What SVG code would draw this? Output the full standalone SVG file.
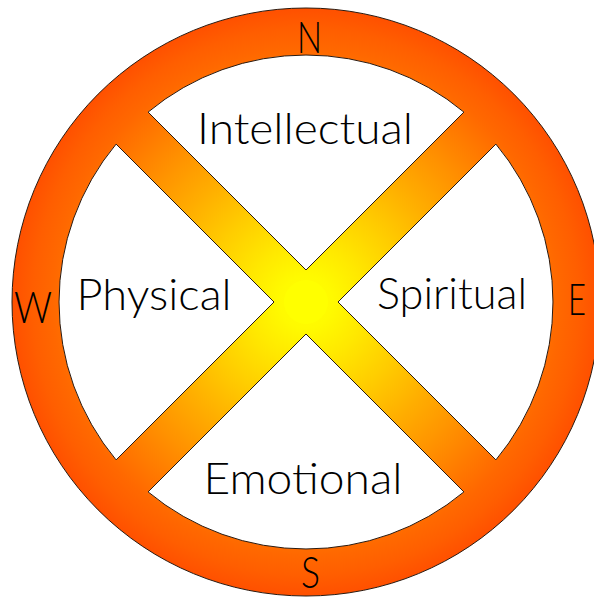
<svg xmlns="http://www.w3.org/2000/svg" width="594" height="599" viewBox="0 0 594 599">
  <defs>
    <radialGradient id="glow" gradientUnits="userSpaceOnUse" cx="306" cy="302" r="294">
      <stop offset="0" stop-color="#FFFF00"/>
      <stop offset="0.09" stop-color="#FFFA00"/>
      <stop offset="0.2" stop-color="#FFE800"/>
      <stop offset="0.35" stop-color="#FFCC00"/>
      <stop offset="0.5" stop-color="#FFAE00"/>
      <stop offset="0.65" stop-color="#FF9200"/>
      <stop offset="0.78" stop-color="#FF7800"/>
      <stop offset="0.86" stop-color="#FF6800"/>
      <stop offset="0.93" stop-color="#FF5E00"/>
      <stop offset="1" stop-color="#FF5000"/>
    </radialGradient>
    <style>
      .edge { stroke: #2a1a10; stroke-width: 1; }
      .hole { fill: #FFFFFF; }
      .lbl { font-family: "Lato", "Liberation Sans", sans-serif; font-weight: 300; font-size: 44px; fill: #000; text-anchor: middle; }
    </style>
  </defs>
  <rect width="594" height="599" fill="#FFFFFF"/>
  <g id="wheel">
    <circle cx="306" cy="302" r="294" fill="url(#glow)" class="edge"/>
    <circle cx="306" cy="302" r="22" fill="#FFFF00"/>
  </g>
  <g id="intellectual">
    <path class="hole edge" d="M306,270 L148.1,112.1 A247,247 0 0 1 463.9,112.1 Z"/>
    <text class="lbl" x="305" y="144" textLength="216" lengthAdjust="spacingAndGlyphs">Intellectual</text>
  </g>
  <g id="spiritual">
    <path class="hole edge" d="M338,302 L495.9,144.1 A247,247 0 0 1 495.9,459.9 Z"/>
    <text class="lbl" x="452" y="309" textLength="150" lengthAdjust="spacingAndGlyphs">Spiritual</text>
  </g>
  <g id="emotional">
    <path class="hole edge" d="M306,334 L463.9,491.9 A247,247 0 0 1 148.1,491.9 Z"/>
    <text class="lbl" x="303" y="494" textLength="199" lengthAdjust="spacingAndGlyphs">Emotional</text>
  </g>
  <g id="physical">
    <path class="hole edge" d="M274,302 L116.1,459.9 A247,247 0 0 1 116.1,144.1 Z"/>
    <text class="lbl" x="154" y="310" textLength="155" lengthAdjust="spacingAndGlyphs">Physical</text>
  </g>
  <g id="compass">
    <text class="lbl" x="309.5" y="53" textLength="25" lengthAdjust="spacingAndGlyphs">N</text>
    <text class="lbl" x="33" y="323" textLength="38" lengthAdjust="spacingAndGlyphs">W</text>
    <text class="lbl" x="577" y="315" textLength="18" lengthAdjust="spacingAndGlyphs">E</text>
    <text class="lbl" x="310.5" y="588" textLength="19" lengthAdjust="spacingAndGlyphs">S</text>
  </g>
  <g id="connectors"/>
</svg>
